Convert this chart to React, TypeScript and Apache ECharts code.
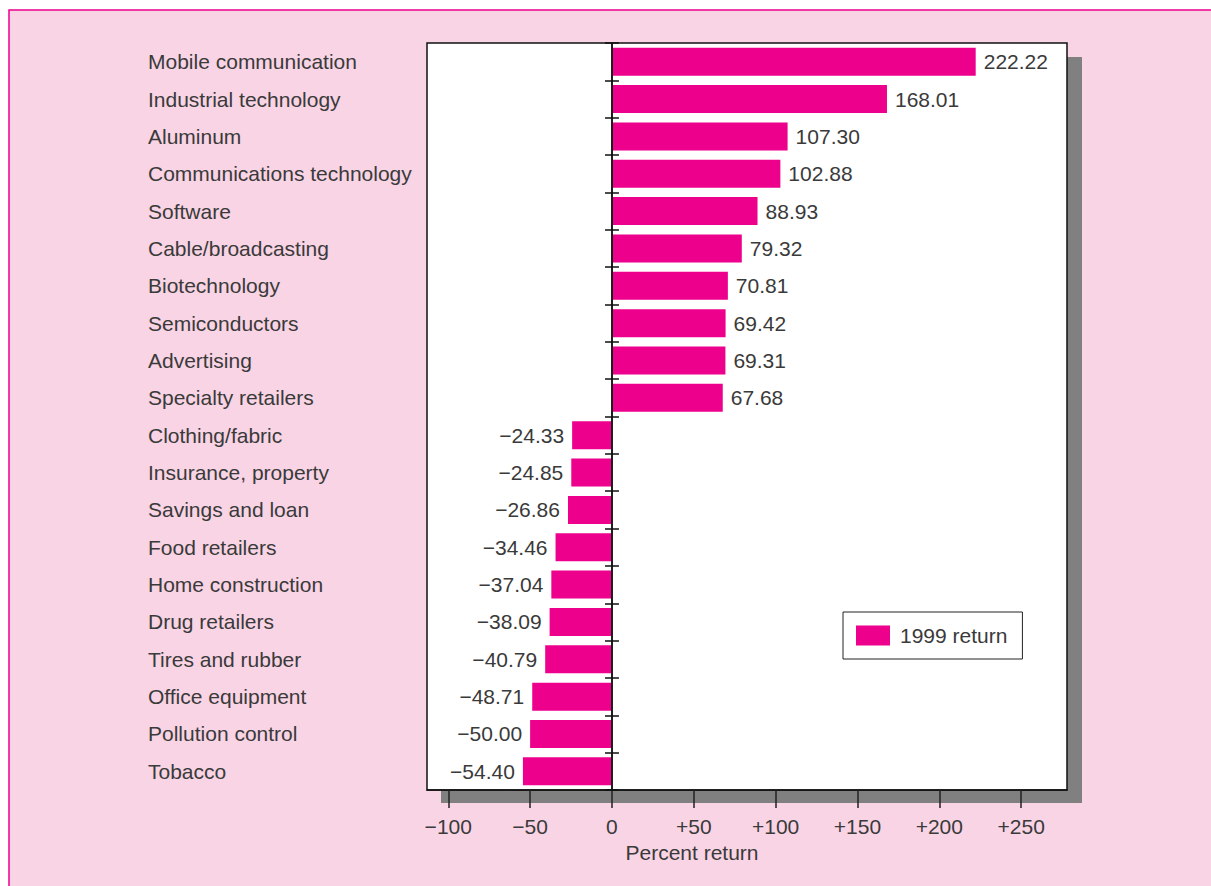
import React, { useEffect, useRef } from "react";
import * as echarts from "echarts";

const categories = [
  "Mobile communication",
  "Industrial technology",
  "Aluminum",
  "Communications technology",
  "Software",
  "Cable/broadcasting",
  "Biotechnology",
  "Semiconductors",
  "Advertising",
  "Specialty retailers",
  "Clothing/fabric",
  "Insurance, property",
  "Savings and loan",
  "Food retailers",
  "Home construction",
  "Drug retailers",
  "Tires and rubber",
  "Office equipment",
  "Pollution control",
  "Tobacco",
];

const returns1999 = [
  222.22, 168.01, 107.3, 102.88, 88.93, 79.32, 70.81, 69.42, 69.31, 67.68,
  -24.33, -24.85, -26.86, -34.46, -37.04, -38.09, -40.79, -48.71, -50.0, -54.4,
];

const xTicks = [-100, -50, 0, 50, 100, 150, 200, 250];

const seriesName = "1999 return";
const axisTitle = "Percent return";

const MAGENTA = "#EC008C";
const PINK = "#F9D4E5";
const TEXT = "#3a3a3a";
const FONT = "'Liberation Sans', Arial, sans-serif";
const FS = 21;

function fmtValue(v: number): string {
  return v < 0 ? "\u2212" + Math.abs(v).toFixed(2) : v.toFixed(2);
}
function fmtTick(v: number): string {
  if (v < 0) return "\u2212" + Math.abs(v);
  if (v > 0) return "+" + v;
  return "0";
}

export default function App() {
  const ref = useRef<HTMLDivElement>(null);
  useEffect(() => {
    if (!ref.current) return;
    const chart = echarts.init(ref.current, null, { renderer: "svg" });
    const yCommon = {
      type: "category" as const,
      data: categories,
      inverse: true,
      z: 3,
      axisLine: {
        show: true,
        onZero: true,
        onZeroAxisIndex: 0,
        lineStyle: { color: "#111", width: 1.5 },
      },
      axisTick: { show: true, length: 7, lineStyle: { color: "#111", width: 1.5 } },
      splitLine: { show: false },
    };
    chart.setOption({
      animation: false,
      backgroundColor: "#ffffff",
      textStyle: { fontFamily: FONT },
      graphic: [
        {
          type: "rect",
          z: -20,
          shape: { x: 9, y: 10, width: 1210, height: 890 },
          style: { fill: PINK, stroke: MAGENTA, lineWidth: 1.5 },
        },
        {
          type: "rect",
          z: -10,
          shape: { x: 441, y: 57, width: 641, height: 746 },
          style: { fill: "#808080" },
        },
        {
          type: "text",
          x: 692,
          y: 852,
          style: {
            text: axisTitle,
            fill: TEXT,
            font: `${FS}px ${FONT}`,
            align: "center",
            verticalAlign: "middle",
          },
        },
      ],
      grid: {
        show: true,
        left: 427,
        top: 43,
        width: 640,
        height: 747,
        outerBoundsMode: "none",
        containLabel: false,
        backgroundColor: "#ffffff",
        borderColor: "#111",
        borderWidth: 1.5,
      },
      legend: {
        show: true,
        left: 843,
        top: 612,
        orient: "horizontal",
        icon: "rect",
        itemWidth: 34,
        itemHeight: 20,
        backgroundColor: "#ffffff",
        borderColor: "#222",
        borderWidth: 1,
        padding: [13, 15, 13, 13],
        textStyle: { fontSize: FS, color: TEXT, fontFamily: FONT, padding: [0, 0, 0, 5] },
        data: [seriesName],
      },
      xAxis: {
        type: "value",
        min: -113,
        max: 278,
        position: "bottom",
        axisLine: { show: true, onZero: false, lineStyle: { color: "#111", width: 1.5 } },
        axisTick: {
          show: true,
          length: 18,
          customValues: xTicks,
          lineStyle: { color: "#222", width: 1.5 },
        },
        axisLabel: {
          show: true,
          customValues: xTicks,
          margin: 26,
          fontSize: FS,
          color: TEXT,
          fontFamily: FONT,
          formatter: (v: number) => fmtTick(v),
        },
        splitLine: { show: false },
      },
      yAxis: [
        {
          ...yCommon,
          position: "left",
          axisLabel: {
            show: true,
            margin: 279,
            align: "left",
            fontSize: FS,
            color: TEXT,
            fontFamily: FONT,
          },
        },
        {
          ...yCommon,
          position: "right",
          axisLabel: { show: false },
        },
      ],
      series: [
        {
          name: seriesName,
          type: "bar",
          barWidth: 28,
          itemStyle: { color: MAGENTA },
          data: returns1999.map((v) => ({
            value: v,
            label: {
              show: true,
              position: v >= 0 ? "right" : "left",
              distance: 8,
              fontSize: FS,
              color: TEXT,
              fontFamily: FONT,
              formatter: () => fmtValue(v),
            },
          })),
        },
      ],
    });
    return () => chart.dispose();
  }, []);
  return (
    <div
      ref={ref}
      style={{ position: "fixed", left: 0, top: 0, width: 1211, height: 886 }}
    />
  );
}
